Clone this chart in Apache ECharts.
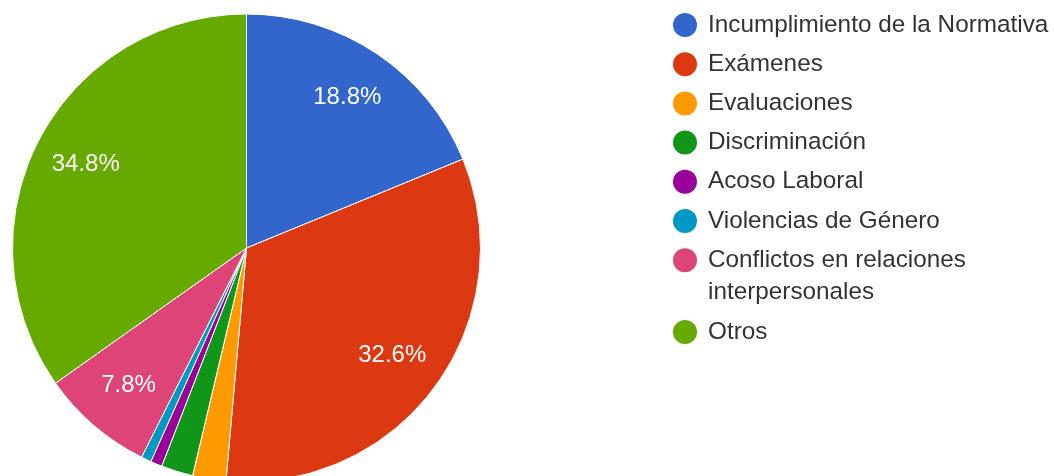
<!DOCTYPE html>
<html>
<head>
<meta charset="utf-8">
<script src="https://cdn.jsdelivr.net/npm/echarts@6/dist/echarts.min.js"></script>
<style>
  html, body { margin: 0; padding: 0; background: #ffffff; }
  #chart { width: 1054px; height: 476px; }
</style>
</head>
<body>
<div id="chart"></div>
<script>
// ---- data ----
var categories = [
  'Incumplimiento de la Normativa',
  'Exámenes',
  'Evaluaciones',
  'Discriminación',
  'Acoso Laboral',
  'Violencias de Género',
  'Conflictos en relaciones\ninterpersonales',
  'Otros'
];
var percentages = [18.8, 32.6, 2.3, 2.2, 0.8, 0.7, 7.8, 34.8];
var colors = ['#3366cc', '#dc3912', '#ff9900', '#109618', '#990099', '#0099c6', '#dd4477', '#66aa00'];

// ---- build ----
var pieData = categories.map(function (name, i) {
  return { name: name, value: percentages[i] };
});
var richStyles = {
  gap: { width: 11 },
  ind: { width: 35 }
};
colors.forEach(function (c, i) {
  richStyles['d' + i] = { width: 24, height: 24, borderRadius: 12, backgroundColor: c };
});

var FONT = '"Liberation Sans", Arial, sans-serif';
var chart = echarts.init(document.getElementById('chart'), null, { renderer: 'canvas' });
chart.setOption({
  animation: false,
  color: colors,
  legend: {
    orient: 'vertical',
    left: 668,
    top: 8.75,
    padding: 0,
    itemGap: 6.7,
    icon: 'none',
    itemWidth: 0,
    itemHeight: 0,
    selectedMode: false,
    data: categories,
    formatter: function (name) {
      var i = categories.indexOf(name);
      return '{d' + i + '|}{gap|}' + name.split('\n').join('\n{ind|}');
    },
    textStyle: {
      fontFamily: FONT,
      fontSize: 24.3,
      color: '#333333',
      lineHeight: 32.5,
      rich: richStyles
    }
  },
  series: [
    {
      type: 'pie',
      center: [246.5, 248],
      radius: [0, 234],
      startAngle: 90,
      clockwise: true,
      avoidLabelOverlap: false,
      silent: true,
      label: { show: false },
      labelLine: { show: false },
      itemStyle: { borderColor: '#ffffff', borderWidth: 1 },
      data: pieData
    },
    {
      type: 'pie',
      center: [246.5, 248],
      radius: [122, 234],
      startAngle: 90,
      clockwise: true,
      avoidLabelOverlap: false,
      silent: true,
      itemStyle: { color: 'rgba(0,0,0,0)', borderWidth: 0 },
      labelLine: { show: false },
      label: {
        show: true,
        position: 'inside',
        color: '#ffffff',
        fontFamily: FONT,
        fontSize: 24,
        formatter: function (p) {
          return p.value >= 5 ? p.value.toFixed(1) + '%' : '';
        }
      },
      data: pieData
    }
  ]
});
</script>
</body>
</html>
